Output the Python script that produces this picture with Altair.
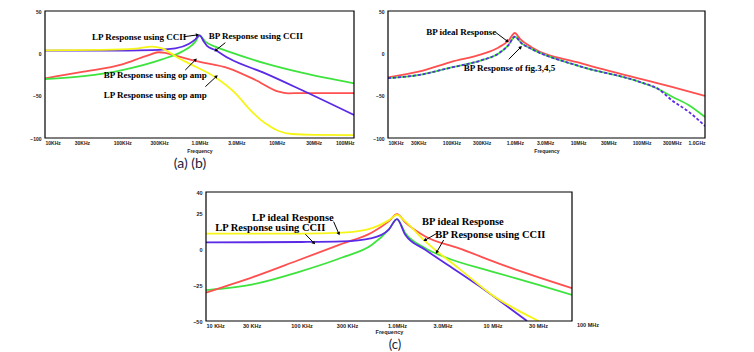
import math
import altair as alt
import pandas as pd

# ---------------- Panel (a): 10 kHz - 100 MHz ----------------
A_LP_OPAMP_F = [1e4, 5.4e4, 1.48e5, 2.43e5, 3.27e5, 5.37e5, 7.24e5, 1.6e6, 2.9e6, 4.55e6, 7.1e6, 1.06e7, 1.57e7, 3e7, 1e8]
A_LP_OPAMP_DB = [3.5, 4, 5.5, 7.9, 5.9, -5.9, -11.8, -28.3, -47, -67, -82.7, -91.7, -95.3, -96.3, -96.5]
A_BP_OPAMP_F = [1e4, 3.16e4, 1e5, 1.8e5, 2.4e5, 2.96e5, 3.6e5, 5e5, 8.83e5, 2.39e6, 5.3e6, 1.06e7, 1.4e7, 2.1e7, 1e8]
A_BP_OPAMP_DB = [-29.5, -21.7, -13, -4.7, -0.8, 1.3, 0.6, -3, -9, -17.7, -31.5, -45.3, -47.2, -46.9, -46.9]
A_BP_CCII_F = [1e4, 3.16e4, 1e5, 3.27e5, 5.93e5, 8e5, 8.83e5, 1e6, 1.19e6, 1.6e6, 2.39e6, 7.1e6, 2.1e7, 1e8]
A_BP_CCII_DB = [-30.3, -26.8, -19.7, -7.1, 2, 9.8, 13.8, 21.3, 13.8, 7.9, 2, -11.8, -22.8, -35.4]
A_LP_CCII_F = [1e4, 5.4e4, 2.43e5, 4.87e5, 7.24e5, 8.83e5, 1e6, 1.14e6, 1.25e6, 1.6e6, 2.39e6, 7.1e6, 2.1e7, 1e8]
A_LP_CCII_DB = [3.1, 3.1, 3.9, 5.9, 11, 16.5, 21.3, 13.8, 8.7, 3.9, -5.9, -23.6, -43.3, -72.8]

# ---------------- Panel (b): 10 kHz - 1 GHz ----------------
B_IDEAL_F = [1e4, 3.16e4, 1e5, 3.04e5, 5.56e5, 7.95e5, 1e6, 1.22e6, 1.86e6, 1e7, 1e8, 3e8, 1e9]
B_IDEAL_DB = [-28.5, -21.4, -10, -0.9, 7, 14.9, 24, 16.9, 7, -10.8, -30.5, -39.6, -50.2]
B_FIG3_F = [1e4, 3.16e4, 1e5, 3.04e5, 5.56e5, 7.95e5, 1e6, 1.29e6, 1.86e6, 1e7, 1e8, 1.86e8, 3e8, 5.5e8, 1e9]
B_FIG3_DB = [-29.3, -25.4, -16.7, -8, -0.1, 9.8, 19.6, 11.7, 5, -14.7, -34.5, -42.4, -51, -61, -75.2]
B_FIG45_F = [1e4, 3.16e4, 1e5, 3.04e5, 5.56e5, 7.95e5, 1e6, 1.29e6, 1.86e6, 1e7, 1e8, 1.86e8, 3e8, 5.5e8, 1e9]
B_FIG45_DB = [-29.3, -25.4, -16.7, -8, -0.1, 9.8, 19.6, 11.7, 5, -14.7, -34.5, -42.4, -55.4, -68.8, -85.8]

# ---------------- Panel (c): 10 kHz - ~70 MHz ----------------
C_LP_IDEAL_F = [1e4, 1e5, 2.66e5, 5.47e5, 8.19e5, 1e6, 1.22e6, 1.98e6, 4.4e6, 9.9e6, 3.04e7]
C_LP_IDEAL_DB = [10.9, 10.9, 11.6, 14.8, 20.2, 24.1, 19.5, 5.5, -13.1, -31.8, -50]
C_LP_CCII_F = [1e4, 1e5, 2.66e5, 5.47e5, 8.19e5, 1e6, 1.22e6, 1.98e6, 3.2e6, 7.2e6, 1.48e7, 2.3e7]
C_LP_CCII_DB = [4.8, 5.1, 5.5, 7.8, 13.7, 21.1, 10.2, -0.3, -9.7, -25.5, -40.6, -50]
C_BP_IDEAL_F = [1e4, 3.1e4, 9.1e4, 2.66e5, 5.47e5, 8.19e5, 1e6, 1.22e6, 1.98e6, 4.4e6, 1.48e7, 6.8e7]
C_BP_IDEAL_DB = [-30.2, -19.4, -7.8, 3.9, 11.8, 19.5, 24.6, 18.8, 9, 0.8, -12.4, -27.1]
C_BP_CCII_F = [1e4, 3.1e4, 9.1e4, 2.66e5, 5.47e5, 8.19e5, 1e6, 1.22e6, 1.98e6, 3.2e6, 9.9e6, 3.04e7, 6.8e7]
C_BP_CCII_DB = [-28.4, -24.4, -16, -5.7, 3.2, 13.7, 21.1, 11.3, 0.8, -5.5, -15.5, -24.8, -31.8]

# ---------------- Axis ticks ----------------
AB_TICKS = [1e4, 3e4, 1e5, 3e5, 1e6, 3e6, 1e7, 3e7, 1e8, 3e8, 1e9]
AB_TICK_LABELS = ["10KHz", "30KHz", "100KHz", "300KHz", "1.0MHz", "3.0MHz", "10MHz", "30MHz", "100MHz", "300MHz", "1.0GHz"]
C_TICK_LABELS = ["10 KHz", "30 KHz", "100 KHz", "300 KHz", "1.0MHz", "3.0MHz", "10 MHz", "30 MHz", "100 MHz"]
AB_Y_TICKS = [50, 0, -50, -100]
C_Y_TICKS = [40, 25, 0, -25, -50]

# ---------------- Annotations ----------------
A_NOTES = ["LP Response using CCII", "BP Response using CCII", "BP Response using op amp", "LP Response using op amp"]
A_NOTE_F = [4.05e4, 1.315e6, 5.75e4, 5.75e4]
A_NOTE_DB = [19.3, 20.8, -25.6, -49.2]
A_ARROW = dict(f1=[6.24e5, 2.16e6, 6.55e5, 1.19e6], d1=[19.6, 12.6, -19.7, -39.4],
               f2=[9.29e5, 1.64e6, 8.83e5, 1.64e6], d2=[21.7, 3.9, -7.9, -27.6])

B_NOTES = ["BP ideal Response", "BP Response of fig.3,4,5"]
B_NOTE_F = [4.02e4, 1.56e5]
B_NOTE_DB = [25.2, -17]
B_ARROW = dict(f1=[5.05e5, 8.02e5], d1=[24.4, -7.1], f2=[7.54e5, 1.22e6], d2=[14.6, 6.7])

C_NOTES = ["LP ideal Response", "LP Response using CCII", "BP ideal Response", "BP Response using CCII"]
C_NOTE_F = [3.03e4, 1.25e4, 1.83e6, 2.52e6]
C_NOTE_DB = [22.1, 14.7, 18.9, 10]
C_ARROW = dict(f1=[2.17e5, 1.1e5, 2.62e6, 3.08e6], d1=[19.3, 10.5, 11.2, 6.5],
               f2=[2.45e5, 1.34e5, 1.98e6, 2.62e6], d2=[11.2, 4.6, 6.5, -1.7])

YELLOW = "#f5f518"
GREEN = "#3ee33e"
RED = "#ff4f4f"
BLUE = "#5a2ae6"
LABEL_FONT = "Liberation Sans"
NOTE_FONT = "Liberation Serif"


def label_expr(ticks, labels):
    expr = "''"
    for t, s in reversed(list(zip(ticks, labels))):
        expr = f"(datum.value < {t * 1.4}) ? '{s}' : ({expr})"
    return expr


def make_panel(series, xdom, ydom, xticks, xlabels, yticks, w, h,
               notes, note_f, note_db, arrows, note_size, lab_size, extra=None, title_pad=3):
    xt = [t for t in xticks if xdom[0] * 0.99 <= t <= xdom[1] * 1.01]
    xa = alt.Axis(values=xt, labelExpr=label_expr(xticks, xlabels), grid=False,
                  ticks=False, domain=False, labelFont=LABEL_FONT, labelFontSize=lab_size,
                  labelFontWeight="bold", labelColor="#222", labelFlush=True,
                  labelPadding=2, title="Frequency", titleFont=LABEL_FONT,
                  titleFontSize=lab_size, titleFontWeight="bold", titleColor="#222",
                  titlePadding=title_pad)
    ya = alt.Axis(values=yticks, grid=False, ticks=False, domain=False,
                  labelFont=LABEL_FONT, labelFontSize=lab_size, labelFontWeight="bold",
                  labelColor="#222", labelFlush=False, labelPadding=4, title=None)
    xs = alt.Scale(type="log", domain=xdom, nice=False)
    ys = alt.Scale(domain=ydom, nice=False, zero=False)
    layers = []
    for F, D, color, dash in series:
        mk = dict(color=color, strokeWidth=1.8, interpolate="monotone", clip=True)
        if dash:
            mk["strokeDash"] = dash
        layers.append(alt.Chart(pd.DataFrame({"f": F, "db": D})).mark_line(**mk).encode(
            x=alt.X("f:Q", scale=xs, axis=xa), y=alt.Y("db:Q", scale=ys, axis=ya)))
    adf = pd.DataFrame(arrows)
    # arrowhead orientation (direction of each arrow on screen)
    lx0, lx1 = math.log10(xdom[0]), math.log10(xdom[1])
    angs = []
    for f1, d1, f2, d2 in zip(adf.f1, adf.d1, adf.f2, adf.d2):
        dx = (math.log10(f2) - math.log10(f1)) / (lx1 - lx0) * w
        dy = -(d2 - d1) / (ydom[1] - ydom[0]) * h
        angs.append(math.degrees(math.atan2(dx, -dy)) % 360)
    adf["ang"] = angs
    layers.append(alt.Chart(adf).mark_rule(color="black", strokeWidth=1).encode(
        x=alt.X("f1:Q", scale=xs, axis=xa), x2="f2:Q",
        y=alt.Y("d1:Q", scale=ys, axis=ya), y2="d2:Q"))
    layers.append(alt.Chart(adf).mark_point(shape="triangle", filled=True, color="black",
                                            size=14, opacity=1).encode(
        x=alt.X("f2:Q", scale=xs, axis=xa), y=alt.Y("d2:Q", scale=ys, axis=ya),
        angle=alt.Angle("ang:Q", scale=None)))
    ndf = pd.DataFrame({"t": notes, "f": note_f, "db": note_db})
    layers.append(alt.Chart(ndf).mark_text(font=NOTE_FONT, fontWeight="bold", fontSize=note_size,
                                           align="left", baseline="middle", color="black").encode(
        x=alt.X("f:Q", scale=xs, axis=xa), y=alt.Y("db:Q", scale=ys, axis=ya), text="t:N"))
    frame = alt.Chart(pd.DataFrame({"v": [0]})).mark_rect(fill=None, stroke="black", strokeWidth=1.2).encode(
        x=alt.value(0), x2=alt.value(w), y=alt.value(0), y2=alt.value(h))
    layers.append(frame)
    if extra is not None:
        layers.extend(extra)
    return alt.layer(*layers).properties(width=w, height=h)


def caption(text, px, py, size=14):
    return alt.Chart(pd.DataFrame({"t": [text]})).mark_text(
        font="Lato", fontSize=size, color="#1c2440", align="center", baseline="middle").encode(
        x=alt.value(px), y=alt.value(py), text="t:N")


panel_a = make_panel(
    [(A_BP_OPAMP_F, A_BP_OPAMP_DB, RED, None),
     (A_BP_CCII_F, A_BP_CCII_DB, GREEN, None),
     (A_LP_CCII_F, A_LP_CCII_DB, BLUE, None),
     (A_LP_OPAMP_F, A_LP_OPAMP_DB, YELLOW, None)],
    [1e4, 1e8], [-100, 50], AB_TICKS, AB_TICK_LABELS, AB_Y_TICKS, 309, 127,
    A_NOTES, A_NOTE_F, A_NOTE_DB, A_ARROW, 9, 5,
    extra=[caption("(a)   (b)", 145, 153)])

panel_b = make_panel(
    [(B_IDEAL_F, B_IDEAL_DB, RED, None),
     (B_FIG3_F, B_FIG3_DB, GREEN, None),
     (B_FIG45_F, B_FIG45_DB, BLUE, [3, 2])],
    [1e4, 1e9], [-100, 50], AB_TICKS, AB_TICK_LABELS, AB_Y_TICKS, 317, 127,
    B_NOTES, B_NOTE_F, B_NOTE_DB, B_ARROW, 9, 5)

extra_lbl = alt.Chart(pd.DataFrame({"f": [1e8], "t": [C_TICK_LABELS[-1]]})).mark_text(
    font=LABEL_FONT, fontSize=5.5, fontWeight="bold", color="#222", baseline="top").encode(
    x=alt.X("f:Q", scale=alt.Scale(type="log", domain=[1e4, 6.8e7], nice=False)),
    y=alt.value(131), text="t:N")

panel_c = make_panel(
    [(C_BP_CCII_F, C_BP_CCII_DB, GREEN, None),
     (C_BP_IDEAL_F, C_BP_IDEAL_DB, RED, None),
     (C_LP_CCII_F, C_LP_CCII_DB, BLUE, None),
     (C_LP_IDEAL_F, C_LP_IDEAL_DB, YELLOW, None)],
    [1e4, 6.8e7], [-50, 40], AB_TICKS[:9], C_TICK_LABELS, C_Y_TICKS, 366, 129,
    C_NOTES, C_NOTE_F, C_NOTE_DB, C_ARROW, 10.5, 5.5,
    extra=[caption("(c)", 189, 153, size=13), extra_lbl], title_pad=1)

spacer = alt.Chart(pd.DataFrame({"v": [0]})).mark_point(opacity=0).encode(
    x=alt.value(0), y=alt.value(0)).properties(width=161, height=10)

top = alt.hconcat(panel_a, panel_b, spacing=34, bounds="flush")
bottom = alt.hconcat(spacer, panel_c, spacing=0, bounds="flush")
chart = alt.vconcat(top, bottom, spacing=18).properties(
    padding={"left": 29, "top": 9, "right": 0, "bottom": 0},
    background="white",
).configure_view(stroke=None)

chart.save("out.html", embed_options={"renderer": "svg", "actions": False})
